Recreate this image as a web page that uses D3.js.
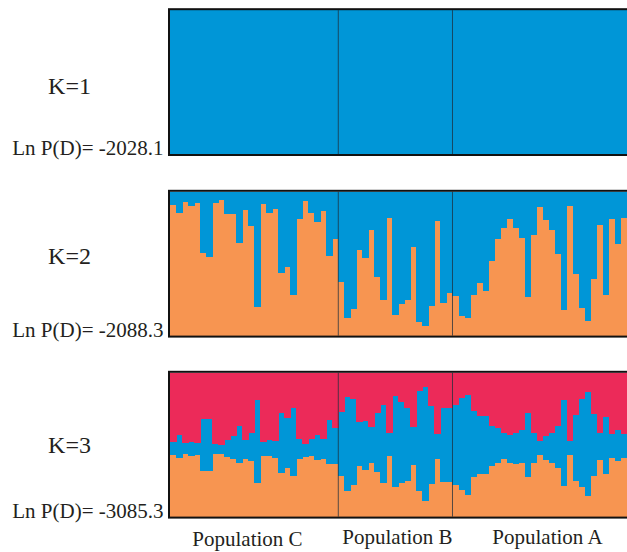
<!DOCTYPE html>
<html>
<head>
<meta charset="utf-8">
<script src="https://cdn.jsdelivr.net/npm/d3@7"></script>
<style>
  html, body { margin: 0; padding: 0; background: #ffffff; }
  svg { display: block; }
  text { font-family: "Liberation Serif", "Times New Roman", Times, serif; fill: #231f20; }
</style>
</head>
<body>
<svg id="chart" width="627" height="552"></svg>
<script>
// ---------------- DATA ----------------
const populations = ["Population C", "Population B", "Population A"];
const popSizes = [28, 19, 29];
const kLabels = ["K=1", "K=2", "K=3"];
const lnPLabels = ["Ln P(D)= -2028.1", "Ln P(D)= -2088.3", "Ln P(D)= -3085.3"];

// K=2 : orange-cluster membership per individual (rest is blue)
const k2Orange = [
  // Population C
  0.911, 0.851, 0.929, 0.900, 0.920, 0.574, 0.549, 0.920, 0.941, 0.844,
  0.844, 0.644, 0.872, 0.763, 0.201, 0.913, 0.851, 0.879, 0.436, 0.480,
  0.284, 0.810, 0.934, 0.851, 0.789, 0.867, 0.556, 0.671,
  // Population B
  0.376, 0.122, 0.185, 0.595, 0.542, 0.734, 0.410, 0.249, 0.821, 0.140,
  0.221, 0.249, 0.618, 0.092, 0.064, 0.208, 0.798, 0.226, 0.296,
  // Population A
  0.277, 0.134, 0.122, 0.284, 0.369, 0.307, 0.519, 0.669, 0.749, 0.808,
  0.749, 0.680, 0.268, 0.699, 0.891, 0.803, 0.734, 0.565, 0.175, 0.900,
  0.427, 0.192, 0.104, 0.394, 0.768, 0.279, 0.810, 0.637, 0.821
];

// K=3 : orange and blue memberships (rest is red)
const k3Orange = [
  // Population C
  0.428, 0.405, 0.437, 0.421, 0.428, 0.317, 0.317, 0.432, 0.437, 0.414,
  0.398, 0.375, 0.403, 0.386, 0.232, 0.421, 0.421, 0.410, 0.306, 0.341,
  0.283, 0.398, 0.414, 0.419, 0.391, 0.403, 0.368, 0.363,
  // Population B
  0.283, 0.179, 0.221, 0.352, 0.322, 0.375, 0.313, 0.237, 0.421, 0.203,
  0.232, 0.248, 0.357, 0.179, 0.110, 0.230, 0.398, 0.244, 0.244,
  // Population A
  0.221, 0.184, 0.152, 0.272, 0.294, 0.299, 0.352, 0.375, 0.403, 0.370,
  0.363, 0.370, 0.272, 0.370, 0.428, 0.391, 0.370, 0.341, 0.214, 0.428,
  0.248, 0.207, 0.145, 0.283, 0.391, 0.299, 0.405, 0.386, 0.405
];
const k3Blue = [
  // Population C
  0.092, 0.159, 0.076, 0.097, 0.081, 0.363, 0.363, 0.076, 0.064, 0.122,
  0.161, 0.252, 0.128, 0.196, 0.579, 0.097, 0.115, 0.119, 0.414, 0.345,
  0.472, 0.145, 0.092, 0.121, 0.177, 0.140, 0.306, 0.253,
  // Population B
  0.441, 0.651, 0.596, 0.306, 0.345, 0.246, 0.407, 0.540, 0.161, 0.637,
  0.568, 0.506, 0.267, 0.694, 0.789, 0.540, 0.179, 0.510, 0.510,
  // Population A
  0.557, 0.639, 0.694, 0.459, 0.409, 0.404, 0.276, 0.241, 0.179, 0.195,
  0.219, 0.234, 0.448, 0.212, 0.097, 0.168, 0.212, 0.292, 0.598, 0.097,
  0.460, 0.610, 0.720, 0.430, 0.191, 0.397, 0.166, 0.219, 0.166
];

// ---------------- LAYOUT ----------------
const colors = { blue: "#0096d7", orange: "#f79551", red: "#ec2a59" };
const svg = d3.select("#chart");
const nInd = d3.sum(popSizes);
const individuals = d3.range(nInd);

const x = d3.scaleBand().domain(individuals).range([170, 626.8]).paddingInner(0).paddingOuter(0);
const bw = x.bandwidth();

const panelTops = [9.2, 190.8, 371.8];
const panelH = 145.8;
const kLabelY = [94.3, 264, 453.3];

// build per-panel tables
const tables = [
  individuals.map(i => ({ id: i, blue: 1 })),
  individuals.map(i => ({ id: i, orange: k2Orange[i], blue: 1 - k2Orange[i] })),
  individuals.map(i => ({ id: i, orange: k3Orange[i], blue: k3Blue[i], red: Math.max(0, 1 - k3Orange[i] - k3Blue[i]) }))
];
const keySets = [["blue"], ["orange", "blue"], ["orange", "blue", "red"]];

// population boundaries
const cum = d3.cumsum(popSizes);
const boundaries = cum.slice(0, -1).map(c => x(c));
const popLabelX = [247.5, 397.5, 547.5];
const popLabelY = [546, 543.5, 543.5];

tables.forEach((tbl, p) => {
  const top = panelTops[p];
  const y = d3.scaleLinear().domain([0, 1]).range([top + panelH - 1, top + 1]);
  const g = svg.append("g");
  const keys = keySets[p];
  // background in the top-most cluster colour (avoids seams)
  g.append("rect")
    .attr("x", x(0)).attr("y", y(1))
    .attr("width", 627 - x(0)).attr("height", y(0) - y(1))
    .attr("fill", colors[keys[keys.length - 1]]);
  const stack = d3.stack().keys(keys)(tbl);
  stack.forEach(layer => {
    g.append("g")
      .attr("fill", colors[layer.key])
      .attr("shape-rendering", "crispEdges")
      .selectAll("rect")
      .data(layer)
      .join("rect")
      .attr("x", (d, i) => x(i))
      .attr("width", bw + 0.6)
      .attr("y", d => y(d[1]))
      .attr("height", d => Math.max(0, y(d[0]) - y(d[1])));
  });
  // population separators
  g.selectAll("line.sep")
    .data(boundaries)
    .join("line")
    .attr("class", "sep")
    .attr("x1", d => d).attr("x2", d => d)
    .attr("y1", top + 1).attr("y2", top + panelH - 1)
    .attr("stroke", "#1d2f3c").attr("stroke-opacity", 0.75).attr("stroke-width", 1);
  // frame
  g.append("rect")
    .attr("x", 169).attr("y", top)
    .attr("width", 470).attr("height", panelH)
    .attr("fill", "none").attr("stroke", "#111").attr("stroke-width", 2);
  // labels
  svg.append("text")
    .attr("x", 69.5).attr("y", kLabelY[p])
    .attr("text-anchor", "middle")
    .attr("font-family", "Liberation Serif, Times New Roman, serif")
    .attr("font-size", 24)
    .text(kLabels[p]);
  svg.append("text")
    .attr("x", 163.5).attr("y", top + panelH)
    .attr("text-anchor", "end")
    .attr("font-family", "Liberation Serif, Times New Roman, serif")
    .attr("font-size", 21)
    .text(lnPLabels[p]);
});

// population names
svg.selectAll("text.pop")
  .data(populations)
  .join("text")
  .attr("class", "pop")
  .attr("x", (d, i) => popLabelX[i])
  .attr("y", (d, i) => popLabelY[i])
  .attr("text-anchor", "middle")
  .attr("font-family", "Liberation Serif, Times New Roman, serif")
  .attr("font-size", 21)
  .text(d => d);
</script>
</body>
</html>
